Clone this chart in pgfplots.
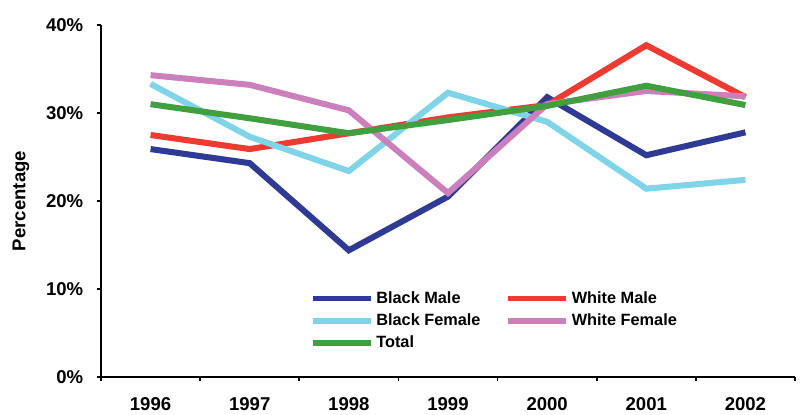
\documentclass[border=0pt]{standalone}
\usepackage{pgfplots}
\pgfplotsset{compat=1.18}
\usepackage{fontspec}
\setmainfont{Liberation Sans}

\definecolor{bmale}{RGB}{46,58,148}
\definecolor{wmale}{RGB}{238,59,50}
\definecolor{bfemale}{RGB}{128,212,232}
\definecolor{wfemale}{RGB}{204,128,187}
\definecolor{total}{RGB}{64,160,64}

\begin{document}
\begin{tikzpicture}
\begin{axis}[
    at={(0,0)}, anchor=south west, scale only axis,
    width=17.35cm, height=8.8cm,
    xmin=-0.5, xmax=6.5, ymin=0, ymax=40,
    axis x line*=bottom, axis y line*=left,
    axis line style={line width=1.4pt, black},
    xtick={-0.5,0.5,...,6.5},
    x tick label as interval,
    xticklabels={1996,1997,1998,1999,2000,2001,2002},
    ytick={0,10,20,30,40},
    yticklabel={\pgfmathprintnumber{\tick}\%},
    /pgf/number format/assume math mode=true,
    tick align=outside, major tick length=0.1cm,
    tick style={line width=1.2pt, black},
    ticklabel style={font=\fontsize{13.2}{15}\selectfont\bfseries},
    yticklabel style={xshift=-0.22cm},
    xticklabel style={yshift=-0.3cm},
    ylabel={Percentage},
    every axis y label/.style={at={(rel axis cs:0,0.5)}, anchor=center,
      rotate=90, yshift=2.0cm, font=\fontsize{13.2}{15}\selectfont\bfseries},
    legend columns=2,
    legend cell align=left,
    legend style={at={(rel axis cs:0.2945,0.26)}, anchor=north west,
      draw=none, fill=none, font=\fontsize{11.6}{13}\selectfont\bfseries,
      row sep=0.07cm,
      /tikz/every even column/.append style={column sep=0.55cm}},
    legend image code/.code={\draw[#1, line width=4pt] (0cm,0cm) -- (1.45cm,0cm);},
    every axis plot/.append style={line width=4.3pt, line join=miter},
    clip=false,
]
\addplot[color=bmale] coordinates {(0,25.9) (1,24.3) (2,14.4) (3,20.5) (4,31.8) (5,25.2) (6,27.8)};
\addplot[color=wmale] coordinates {(0,27.5) (1,25.9) (2,27.7) (3,29.5) (4,30.9) (5,37.7) (6,31.8)};
\addplot[color=bfemale] coordinates {(0,33.3) (1,27.3) (2,23.4) (3,32.3) (4,29.0) (5,21.4) (6,22.4)};
\addplot[color=wfemale] coordinates {(0,34.3) (1,33.2) (2,30.3) (3,20.9) (4,31.0) (5,32.5) (6,31.9)};
\addplot[color=total] coordinates {(0,31.0) (1,29.4) (2,27.7) (3,29.2) (4,30.8) (5,33.1) (6,30.9)};
\legend{Black Male, White Male, Black Female, White Female, Total}
\end{axis}
\pgfresetboundingbox
\path[use as bounding box] (-2.525,-0.95) rectangle (17.475,9.425);
\end{tikzpicture}
\end{document}
